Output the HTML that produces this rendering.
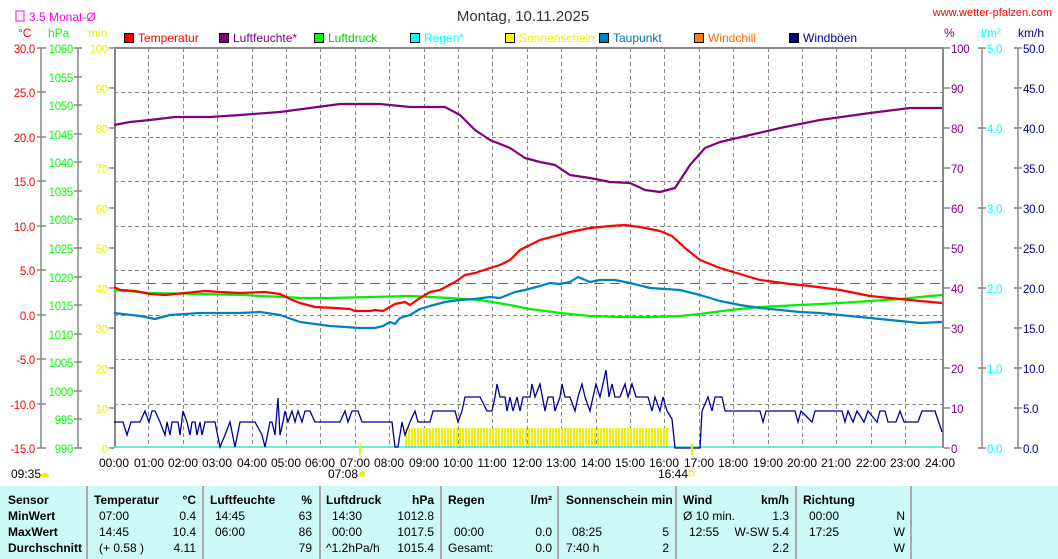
<!DOCTYPE html>
<html><head><meta charset="utf-8"><style>
body{margin:0;background:#fff;width:1058px;height:559px;overflow:hidden;font-family:"Liberation Sans",sans-serif}
svg{display:block}
text{font-family:"Liberation Sans",sans-serif;font-size:12px}
.ax text{font-size:11.5px;letter-spacing:-0.3px}
</style></head><body>
<svg width="1058" height="559" viewBox="0 0 1058 559">
<defs>
<pattern id="sun" width="3" height="20" patternUnits="userSpaceOnUse" x="405"><rect width="2" height="20" fill="#f0f000"/></pattern>
</defs>
<rect width="1058" height="559" fill="#fff"/>
<text x="523" y="21" text-anchor="middle" style="font-size:15px" fill="#333">Montag, 10.11.2025</text>
<text x="1052" y="16" text-anchor="end" fill="#f00" style="font-size:11px">www.wetter-pfalzen.com</text>
<rect x="16" y="11" width="8" height="10" fill="none" stroke="#f0f"/>
<text x="29" y="21" fill="#f0f">3.5 Monat-Ø</text>
<text x="18" y="37" fill="#f00">°C</text>
<text x="48" y="37" fill="#0f0">hPa</text>
<text x="88" y="37" fill="#ee0">min</text>
<text x="944" y="37" fill="#800080">%</text>
<text x="981" y="37" fill="#0ff">l/m²</text>
<text x="1018" y="37" fill="#008">km/h</text>
<g stroke="#000" stroke-width="1">
<rect x="124.5" y="33.5" width="9" height="9" fill="#f00"/>
<rect x="219.5" y="33.5" width="9" height="9" fill="#800080"/>
<rect x="314.5" y="33.5" width="9" height="9" fill="#0f0"/>
<rect x="410.5" y="33.5" width="9" height="9" fill="#0ff"/>
<rect x="505.5" y="33.5" width="9" height="9" fill="#ff0"/>
<rect x="599.5" y="33.5" width="9" height="9" fill="#0080c0"/>
<rect x="694.5" y="33.5" width="9" height="9" fill="#ff8000"/>
<rect x="789.5" y="33.5" width="9" height="9" fill="#000080"/>
</g>
<text x="138" y="42" fill="#f00">Temperatur</text>
<text x="233" y="42" fill="#800080">Luftfeuchte*</text>
<text x="328" y="42" fill="#0c0">Luftdruck</text>
<text x="424" y="42" fill="#0ff">Regen*</text>
<text x="519" y="42" fill="#ee0">Sonnenschein</text>
<text x="613" y="42" fill="#0070b0">Taupunkt</text>
<text x="708" y="42" fill="#f60">Windchill</text>
<text x="803" y="42" fill="#008">Windböen</text>
<g stroke="#888" stroke-dasharray="4,3" stroke-width="1">
<path d="M148.5 48V448M183.5 48V448M217.5 48V448M252.5 48V448M286.5 48V448M320.5 48V448M355.5 48V448M389.5 48V448M424.5 48V448M458.5 48V448M492.5 48V448M527.5 48V448M561.5 48V448M596.5 48V448M630.5 48V448M664.5 48V448M699.5 48V448M733.5 48V448M768.5 48V448M802.5 48V448M836.5 48V448M871.5 48V448M905.5 48V448"/>
<path d="M114 92.5H942M114 137.5H942M114 181.5H942M114 226.5H942M114 270.5H942M114 315.5H942M114 359.5H942M114 404.5H942"/>
</g>
<path d="M115 448V48H943V448" fill="none" stroke="#888" stroke-width="2"/>
<rect x="405" y="428" width="263" height="20" fill="url(#sun)"/>
<path d="M114 283.5H942" stroke="#f0f" stroke-dasharray="10,6" stroke-width="1"/>
<g fill="none" stroke-width="2.2" stroke-linejoin="round">
<polyline stroke="#800080" points="114,125 130,122 150,120 175,117 210,117 240,115 280,112 310,108 340,104 380,104 410,107 445,107 460,115 475,130 490,140 510,148 525,158 540,162 555,165 570,175 590,178 610,182 630,183 645,190 660,192 675,188 690,165 705,148 720,142 750,135 780,128 820,120 870,113 910,108 942,108"/>
<polyline stroke="#00f000" points="114,290 150,293 200,294 245,295 260,296 285,297 300,298 330,298 370,297 410,296 430,297 450,298 480,300 510,305 530,309 560,313 590,316 620,317 650,317 680,316 700,314 730,310 760,307 800,305 840,303 870,301 900,299 920,297 942,295"/>
<polyline stroke="#0080c0" points="114,313 140,316 155,319 170,315 200,313 215,313 240,313 260,312 280,315 300,322 330,326 360,328 375,328 383,326 390,322 395,324 400,318 410,315 420,309 430,306 445,302 460,300 475,299 490,297 500,298 510,294 515,292 525,290 540,286 550,283 560,284 570,282 578,277 590,282 600,280 615,280 630,283 650,288 665,289 680,290 700,295 720,301 740,305 760,308 780,310 800,312 820,313 840,315 860,317 880,319 900,321 920,323 942,322"/>
<polyline stroke="#f00" points="114,287 120,290 135,291 150,294 165,295 185,293 205,291 220,292 240,293 265,292 280,294 290,299 300,303 315,307 335,308 350,309 355,311 370,311 375,310 383,311 395,304 405,302 410,305 420,298 430,292 440,290 455,282 465,275 475,273 490,268 500,265 510,260 520,250 540,240 555,236 570,232 590,228 610,226 625,225 640,227 660,231 672,236 685,248 700,260 720,268 740,274 760,280 790,284 810,286 840,290 870,296 890,298 920,301 942,303"/>
</g>
<path d="M114 447H942" stroke="#40e0e0" stroke-width="1.5"/>
<polyline fill="none" stroke="#000090" stroke-width="1.3" points="114,422 123,422 127,435 131,422 140,422 145,411 149,422 152,411 155,411 160,422 165,435 167,422 170,435 172,422 178,422 180,435 183,411 187,422 190,435 192,422 195,422 197,435 200,422 202,435 205,422 215,422 220,447 225,435 230,422 235,447 240,422 255,422 262,435 265,447 270,422 272,422 275,435 278,398 280,435 283,422 285,411 288,422 292,411 295,422 298,411 302,422 305,411 310,411 315,422 340,422 345,411 348,422 352,411 358,411 362,422 380,422 392,422 395,447 398,447 402,422 405,435 410,422 415,411 418,422 430,422 433,411 455,411 458,422 462,411 465,397 480,397 487,411 492,411 495,397 497,384 500,397 505,397 507,411 510,397 513,411 517,397 520,411 523,397 530,397 532,384 535,397 540,384 545,411 548,397 553,397 555,411 560,397 562,384 565,397 570,397 575,411 578,397 582,384 585,397 590,411 593,397 596,384 600,397 603,384 606,370 609,397 612,384 615,397 620,397 625,384 628,397 632,384 636,397 648,397 652,411 655,397 660,411 663,397 667,411 672,419 675,448 700,448 702,411 708,397 712,411 715,397 722,397 725,411 760,411 763,422 766,411 795,411 798,422 801,411 812,422 815,411 842,411 845,422 848,411 853,422 857,411 864,422 868,411 877,422 880,411 885,411 888,422 896,422 900,411 904,422 918,422 922,411 935,411 942,432"/>
<path d="M360 444V455M692 444V455" stroke="#ee0" stroke-width="2"/>
<g stroke="#888" stroke-width="1.5" fill="none">
<path d="M41 48V448M78 48V448"/>
<path d="M37 48H46M37 92H46M37 137H46M37 181H46M37 226H46M37 270H46M37 315H46M37 359H46M37 404H46M37 448H46"/>
<path d="M74 48H82M74 77H82M74 105H82M74 134H82M74 162H82M74 191H82M74 219H82M74 248H82M74 277H82M74 305H82M74 334H82M74 362H82M74 391H82M74 419H82M74 448H82"/>
<path d="M109 48H114M109 88H114M109 128H114M109 168H114M109 208H114M109 248H114M109 288H114M109 328H114M109 368H114M109 408H114M109 448H114"/>
<path d="M944 48H950M944 88H950M944 128H950M944 168H950M944 208H950M944 248H950M944 288H950M944 328H950M944 368H950M944 408H950M944 448H950"/>
<path d="M982 48V448M978 48H986M978 128H986M978 208H986M978 288H986M978 368H986M978 448H986"/>
<path d="M1018 48V448M1014 48H1022M1014 88H1022M1014 128H1022M1014 168H1022M1014 208H1022M1014 248H1022M1014 288H1022M1014 328H1022M1014 368H1022M1014 408H1022M1014 448H1022"/>
</g>
<g class="ax">
<g fill="#f00" text-anchor="end">
<text x="35" y="53">30.0</text><text x="35" y="97">25.0</text><text x="35" y="142">20.0</text><text x="35" y="186">15.0</text><text x="35" y="231">10.0</text><text x="35" y="275">5.0</text><text x="35" y="320">0.0</text><text x="35" y="364">-5.0</text><text x="35" y="409">-10.0</text><text x="35" y="453">-15.0</text>
</g>
<g fill="#0f0" text-anchor="end">
<text x="73" y="53">1060</text><text x="73" y="82">1055</text><text x="73" y="110">1050</text><text x="73" y="139">1045</text><text x="73" y="167">1040</text><text x="73" y="196">1035</text><text x="73" y="224">1030</text><text x="73" y="253">1025</text><text x="73" y="282">1020</text><text x="73" y="310">1015</text><text x="73" y="339">1010</text><text x="73" y="367">1005</text><text x="73" y="396">1000</text><text x="73" y="424">995</text><text x="73" y="453">990</text>
</g>
<g fill="#ee0" text-anchor="end">
<text x="108" y="53">100</text><text x="108" y="93">90</text><text x="108" y="133">80</text><text x="108" y="173">70</text><text x="108" y="213">60</text><text x="108" y="253">50</text><text x="108" y="293">40</text><text x="108" y="333">30</text><text x="108" y="373">20</text><text x="108" y="413">10</text><text x="108" y="453">0</text>
</g>
<g fill="#800080">
<text x="951" y="53">100</text><text x="951" y="93">90</text><text x="951" y="133">80</text><text x="951" y="173">70</text><text x="951" y="213">60</text><text x="951" y="253">50</text><text x="951" y="293">40</text><text x="951" y="333">30</text><text x="951" y="373">20</text><text x="951" y="413">10</text><text x="951" y="453">0</text>
</g>
<g fill="#0ff">
<text x="987" y="53">5.0</text><text x="987" y="133">4.0</text><text x="987" y="213">3.0</text><text x="987" y="293">2.0</text><text x="987" y="373">1.0</text><text x="987" y="453">0.0</text>
</g>
<g fill="#000090">
<text x="1023" y="53">50.0</text><text x="1023" y="93">45.0</text><text x="1023" y="133">40.0</text><text x="1023" y="173">35.0</text><text x="1023" y="213">30.0</text><text x="1023" y="253">25.0</text><text x="1023" y="293">20.0</text><text x="1023" y="333">15.0</text><text x="1023" y="373">10.0</text><text x="1023" y="413">5.0</text><text x="1023" y="453">0.0</text>
</g>
</g>
<g fill="#000" text-anchor="middle">
<text x="114" y="467">00:00</text><text x="149" y="467">01:00</text><text x="183" y="467">02:00</text><text x="217" y="467">03:00</text><text x="252" y="467">04:00</text><text x="286" y="467">05:00</text><text x="320" y="467">06:00</text><text x="355" y="467">07:00</text><text x="389" y="467">08:00</text><text x="424" y="467">09:00</text><text x="458" y="467">10:00</text><text x="492" y="467">11:00</text><text x="527" y="467">12:00</text><text x="561" y="467">13:00</text><text x="596" y="467">14:00</text><text x="630" y="467">15:00</text><text x="664" y="467">16:00</text><text x="699" y="467">17:00</text><text x="733" y="467">18:00</text><text x="768" y="467">19:00</text><text x="802" y="467">20:00</text><text x="836" y="467">21:00</text><text x="871" y="467">22:00</text><text x="905" y="467">23:00</text><text x="940" y="467">24:00</text>
</g>
<text x="11" y="478" fill="#000">09:35</text>
<path d="M40 477a4.5 4 0 0 1 9 0z" fill="#ee0"/>
<text x="328" y="478" fill="#000">07:08</text>
<circle cx="362" cy="474" r="3" fill="#ee0"/>
<text x="658" y="478" fill="#000">16:44</text>
<rect x="689" y="471" width="5" height="5" fill="none" stroke="#ee0"/>
<rect x="0" y="486" width="1058" height="73" fill="#ccf8f6"/>
<g stroke="#aaa" stroke-width="2">
<path d="M87 486V559M203 486V559M320 486V559M441 486V559M558 486V559M676 486V559M796 486V559M911 486V559"/>
</g>
<g fill="#000" style="font-weight:bold">
<text x="8" y="504">Sensor</text><text x="8" y="520">MinWert</text><text x="8" y="536">MaxWert</text><text x="8" y="552">Durchschnitt</text>
<text x="94" y="504">Temperatur</text><text x="196" y="504" text-anchor="end">°C</text>
<text x="210" y="504">Luftfeuchte</text><text x="312" y="504" text-anchor="end">%</text>
<text x="326" y="504">Luftdruck</text><text x="434" y="504" text-anchor="end">hPa</text>
<text x="448" y="504">Regen</text><text x="552" y="504" text-anchor="end">l/m²</text>
<text x="566" y="504">Sonnenschein min</text>
<text x="683" y="504">Wind</text><text x="789" y="504" text-anchor="end">km/h</text>
<text x="803" y="504">Richtung</text>
</g>
<g fill="#000">
<text x="99" y="520">07:00</text><text x="196" y="520" text-anchor="end">0.4</text>
<text x="99" y="536">14:45</text><text x="196" y="536" text-anchor="end">10.4</text>
<text x="99" y="552">(+ 0.58 )</text><text x="196" y="552" text-anchor="end">4.11</text>
<text x="215" y="520">14:45</text><text x="312" y="520" text-anchor="end">63</text>
<text x="215" y="536">06:00</text><text x="312" y="536" text-anchor="end">86</text>
<text x="312" y="552" text-anchor="end">79</text>
<text x="332" y="520">14:30</text><text x="434" y="520" text-anchor="end">1012.8</text>
<text x="332" y="536">00:00</text><text x="434" y="536" text-anchor="end">1017.5</text>
<text x="326" y="552">^1.2hPa/h</text><text x="434" y="552" text-anchor="end">1015.4</text>
<text x="454" y="536">00:00</text><text x="552" y="536" text-anchor="end">0.0</text>
<text x="448" y="552">Gesamt:</text><text x="552" y="552" text-anchor="end">0.0</text>
<text x="572" y="536">08:25</text><text x="669" y="536" text-anchor="end">5</text>
<text x="566" y="552">7:40 h</text><text x="669" y="552" text-anchor="end">2</text>
<text x="683" y="520">Ø 10 min.</text><text x="789" y="520" text-anchor="end">1.3</text>
<text x="689" y="536">12:55</text><text x="789" y="536" text-anchor="end">W-SW 5.4</text>
<text x="789" y="552" text-anchor="end">2.2</text>
<text x="809" y="520">00:00</text><text x="905" y="520" text-anchor="end">N</text>
<text x="809" y="536">17:25</text><text x="905" y="536" text-anchor="end">W</text>
<text x="905" y="552" text-anchor="end">W</text>
</g>
</svg>
</body></html>
